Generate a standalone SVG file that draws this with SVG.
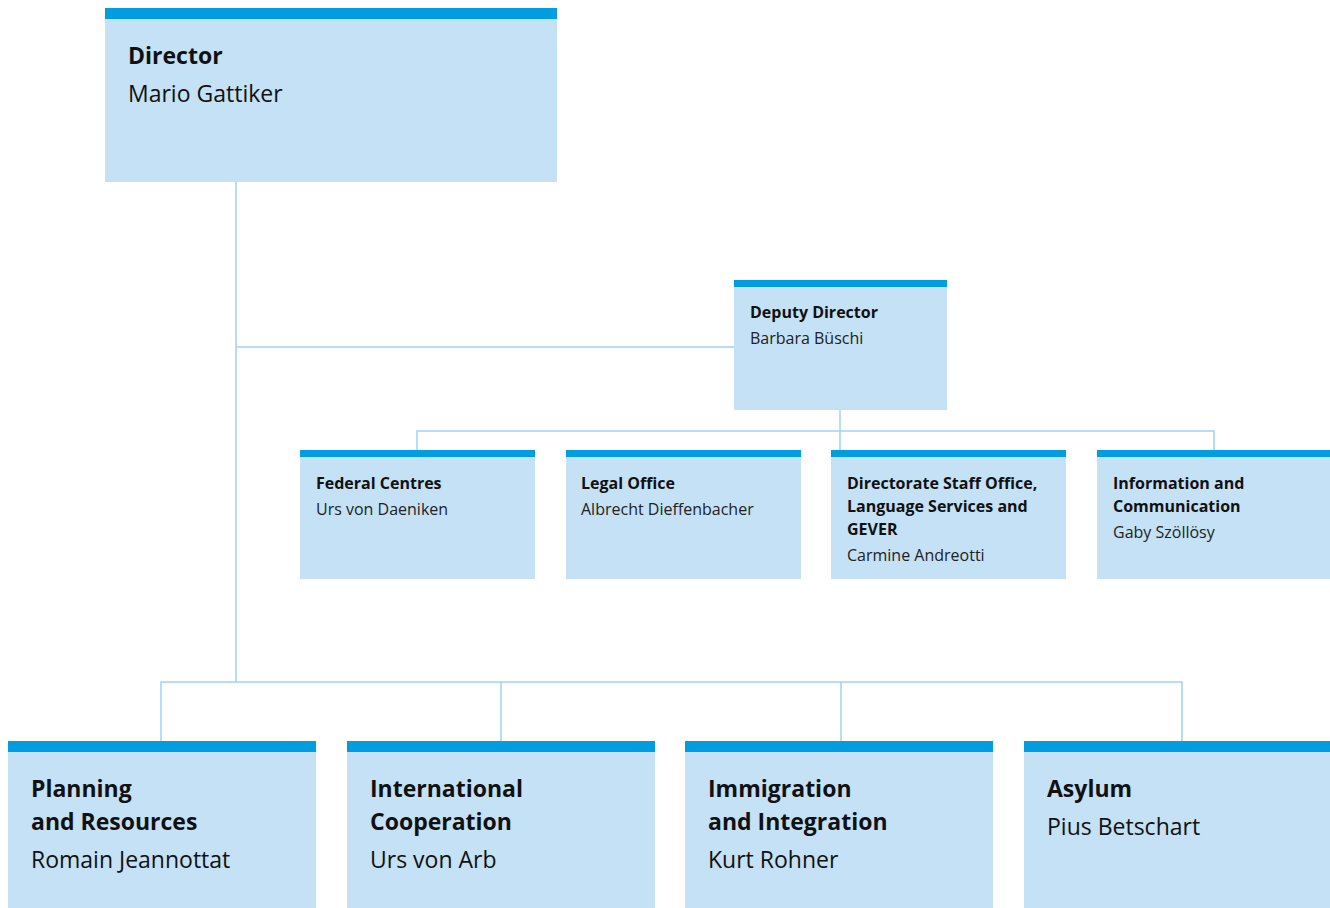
<svg xmlns="http://www.w3.org/2000/svg" width="1330" height="908" viewBox="0 0 1330 908">
<style>
.box{fill:#c4e1f6}
.bar{fill:#009ee0}
.con{stroke:#a3d2f2;stroke-width:1.5;fill:none}
text{font-family:"Open Sans","Noto Sans","Liberation Sans",sans-serif;fill:#111}
.tl{font-size:23px;font-weight:bold}
.nl{font-size:23px}
.ts{font-size:16px;font-weight:bold}
.ns{font-size:16px;fill:#222}
</style>
<rect width="1330" height="908" fill="#fff"/>
<g id="connectors">
<path class="con" d="M236 182V682M236 347H734M840 410V450M417 450V431H1214V450M161 741V682H1182V741M501 682V741M841 682V741"/>
</g>
<g id="director">
<rect class="box" x="105" y="8" width="452" height="174"/>
<rect class="bar" x="105" y="8" width="452" height="11"/>
<text class="tl" x="128" y="64">Director</text>
<text class="nl" x="128" y="102">Mario Gattiker</text>
</g>
<g id="deputy">
<rect class="box" x="734" y="280" width="213" height="130"/>
<rect class="bar" x="734" y="280" width="213" height="7"/>
<text class="ts" x="750" y="318">Deputy Director</text>
<text class="ns" x="750" y="344">Barbara Büschi</text>
</g>
<g id="federal-centres">
<rect class="box" x="300" y="450" width="235" height="129"/>
<rect class="bar" x="300" y="450" width="235" height="7"/>
<text class="ts" x="316" y="489">Federal Centres</text>
<text class="ns" x="316" y="515">Urs von Daeniken</text>
</g>
<g id="legal-office">
<rect class="box" x="566" y="450" width="235" height="129"/>
<rect class="bar" x="566" y="450" width="235" height="7"/>
<text class="ts" x="581" y="489">Legal Office</text>
<text class="ns" x="581" y="515">Albrecht Dieffenbacher</text>
</g>
<g id="directorate-staff">
<rect class="box" x="831" y="450" width="235" height="129"/>
<rect class="bar" x="831" y="450" width="235" height="7"/>
<text class="ts" x="847" y="489">Directorate Staff Office,</text>
<text class="ts" x="847" y="512">Language Services and</text>
<text class="ts" x="847" y="535">GEVER</text>
<text class="ns" x="847" y="561">Carmine Andreotti</text>
</g>
<g id="information">
<rect class="box" x="1097" y="450" width="233" height="129"/>
<rect class="bar" x="1097" y="450" width="233" height="7"/>
<text class="ts" x="1113" y="489">Information and</text>
<text class="ts" x="1113" y="512">Communication</text>
<text class="ns" x="1113" y="538">Gaby Szöllösy</text>
</g>
<g id="planning">
<rect class="box" x="8" y="741" width="308" height="167"/>
<rect class="bar" x="8" y="741" width="308" height="11"/>
<text class="tl" x="31" y="797">Planning</text>
<text class="tl" x="31" y="830">and Resources</text>
<text class="nl" x="31" y="868">Romain Jeannottat</text>
</g>
<g id="international">
<rect class="box" x="347" y="741" width="308" height="167"/>
<rect class="bar" x="347" y="741" width="308" height="11"/>
<text class="tl" x="370" y="797">International</text>
<text class="tl" x="370" y="830">Cooperation</text>
<text class="nl" x="370" y="868">Urs von Arb</text>
</g>
<g id="immigration">
<rect class="box" x="685" y="741" width="308" height="167"/>
<rect class="bar" x="685" y="741" width="308" height="11"/>
<text class="tl" x="708" y="797">Immigration</text>
<text class="tl" x="708" y="830">and Integration</text>
<text class="nl" x="708" y="868">Kurt Rohner</text>
</g>
<g id="asylum">
<rect class="box" x="1024" y="741" width="306" height="167"/>
<rect class="bar" x="1024" y="741" width="306" height="11"/>
<text class="tl" x="1047" y="797">Asylum</text>
<text class="nl" x="1047" y="835">Pius Betschart</text>
</g>
</svg>
